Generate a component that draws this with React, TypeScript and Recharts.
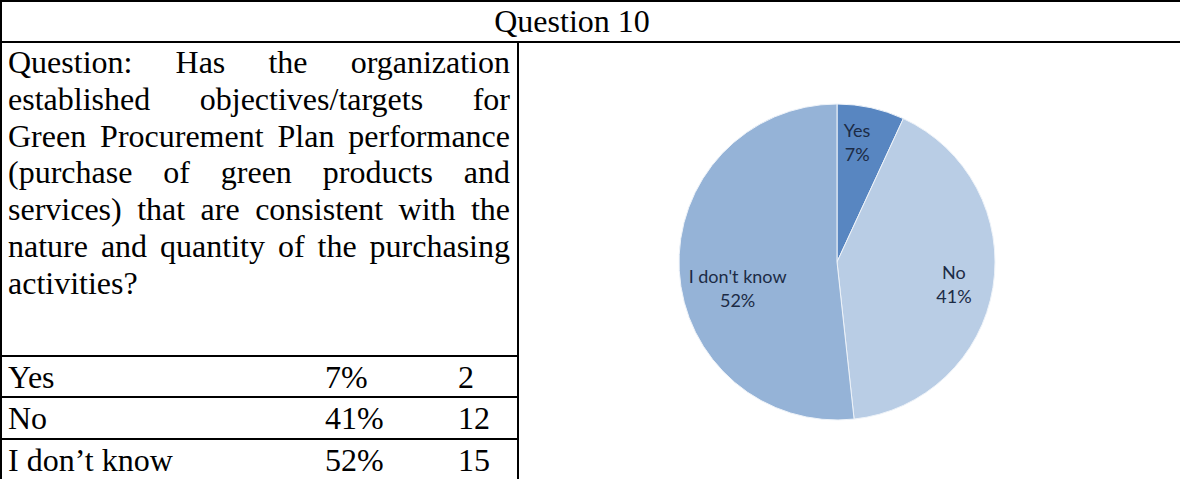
import React from 'react';
import { PieChart, Pie, Cell } from 'recharts';

const title = 'Question 10';
const questionLines = [
  'Question: Has the organization',
  'established objectives/targets for',
  'Green Procurement Plan performance',
  '(purchase of green products and',
  'services) that are consistent with the',
  'nature and quantity of the purchasing',
  'activities?',
];
const answers = ['Yes', 'No', 'I don\u2019t know'];
const pieNames = ['Yes', 'No', "I don't know"];
const counts = [2, 12, 15];

const SLICE_COLORS = ['#5886c1', '#b9cde5', '#95b3d7'];
// label placement: fraction of radius along mid-angle, plus small nudges
const LABEL_RADIUS = [0.77, 0.75, 0.63];
const LABEL_NUDGE_X = [-6, 0, 0];
const LABEL_NUDGE_Y = [0, 4, 22];
const RAD = Math.PI / 180;
const SERIF = '"Liberation Serif", "Times New Roman", serif';

const total = counts.reduce((a, b) => a + b, 0);
const pct = (v: number) => `${Math.round((v / total) * 100)}%`;
const pieData = pieNames.map((name, i) => ({ name, value: counts[i] }));

const renderLabel = (props: any) => {
  const { cx, cy, midAngle, outerRadius, index } = props;
  const r = outerRadius * LABEL_RADIUS[index];
  const x = cx + r * Math.cos(-midAngle * RAD) + LABEL_NUDGE_X[index];
  const y = cy + r * Math.sin(-midAngle * RAD) + LABEL_NUDGE_Y[index];
  return (
    <text x={x} y={y} textAnchor="middle" fill="#1c2b45" fontFamily="Lato, sans-serif" fontSize={18}>
      <tspan x={x} dy={-6}>{pieNames[index]}</tspan>
      <tspan x={x} dy={24}>{pct(counts[index])}</tspan>
    </text>
  );
};

const line = (style: React.CSSProperties) => (
  <div style={{ position: 'absolute', background: '#000', ...style }} />
);

const ROW_TOPS = [356, 397, 439];

const App: React.FC = () => {
  return (
    <div
      style={{
        position: 'absolute',
        left: 0,
        top: 0,
        width: 1180,
        height: 479,
        overflow: 'hidden',
        background: '#fff',
        fontFamily: SERIF,
        color: '#000',
      }}
    >
      {/* borders */}
      {line({ left: 0, top: 0, width: 1180, height: 2 })}
      {line({ left: 0, top: 0, width: 2, height: 479 })}
      {line({ left: 0, top: 41, width: 1180, height: 2 })}
      {line({ left: 517, top: 41, width: 2, height: 438 })}
      {ROW_TOPS.map((t) => (
        <React.Fragment key={t}>{line({ left: 0, top: t - 1, width: 518, height: 2 })}</React.Fragment>
      ))}

      {/* header */}
      <div style={{ position: 'absolute', left: 0, top: 2, width: 1144, height: 39, lineHeight: '39px', textAlign: 'center', fontSize: 32 }}>
        {title}
      </div>

      {/* question text */}
      {questionLines.map((t, i) => (
        <div
          key={i}
          style={{
            position: 'absolute',
            left: 8,
            top: 44 + i * 36.8,
            width: 502,
            height: 36,
            lineHeight: '36px',
            fontSize: 32,
            whiteSpace: 'nowrap',
            textAlign: i < questionLines.length - 1 ? 'justify' : 'left',
            textAlignLast: i < questionLines.length - 1 ? 'justify' : 'left',
          }}
        >
          {t}
        </div>
      ))}

      {/* answer rows */}
      {answers.map((a, i) => (
        <React.Fragment key={a}>
          <div style={{ position: 'absolute', left: 8, top: ROW_TOPS[i] + 1, height: 40, lineHeight: '40px', fontSize: 32 }}>{a}</div>
          <div style={{ position: 'absolute', left: 325, top: ROW_TOPS[i] + 1, height: 40, lineHeight: '40px', fontSize: 32 }}>{pct(counts[i])}</div>
          <div style={{ position: 'absolute', left: 458, top: ROW_TOPS[i] + 1, height: 40, lineHeight: '40px', fontSize: 32 }}>{counts[i]}</div>
        </React.Fragment>
      ))}

      {/* pie */}
      <div style={{ position: 'absolute', left: 519, top: 43 }}>
        <PieChart width={661} height={436}>
          <Pie
            data={pieData}
            dataKey="value"
            nameKey="name"
            cx={313}
            cy={214}
            outerRadius={158}
            startAngle={90}
            endAngle={-270}
            stroke="#eef3f9"
            strokeWidth={1}
            label={renderLabel}
            labelLine={false}
            isAnimationActive={false}
          >
            {pieData.map((d, i) => (
              <Cell key={d.name} fill={SLICE_COLORS[i]} />
            ))}
          </Pie>
        </PieChart>
      </div>
    </div>
  );
};

export default App;
